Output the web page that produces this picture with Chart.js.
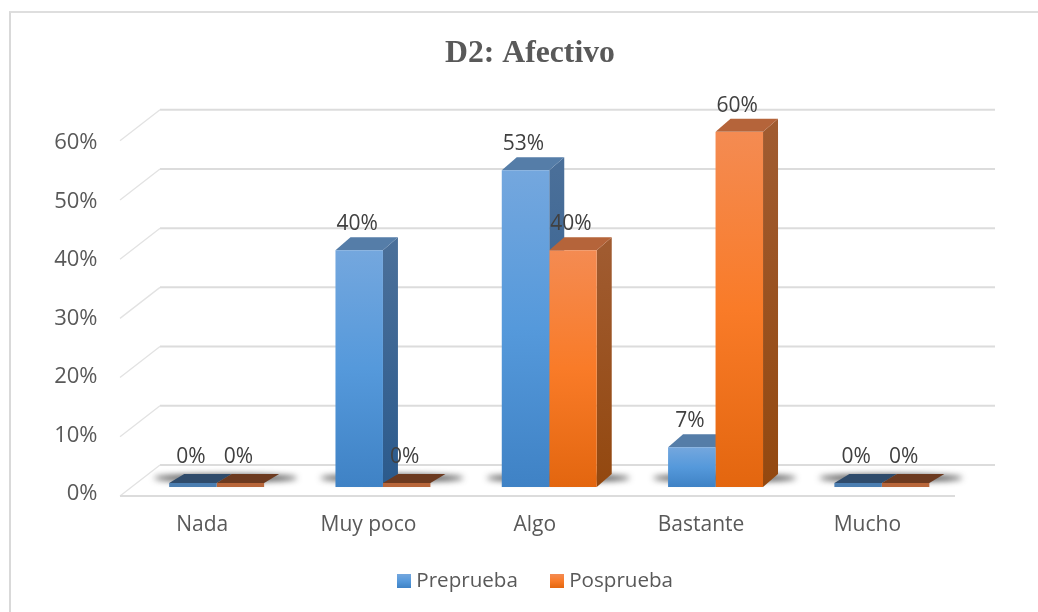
<!DOCTYPE html>
<html><head><meta charset="utf-8">
<script src="https://cdn.jsdelivr.net/npm/chart.js@4"></script>
<style>
html,body{margin:0;padding:0;background:#fff;overflow:hidden}
#frame{position:absolute;left:9px;top:11px;right:0;bottom:0;border-left:2px solid #d9d9d9;border-top:2px solid #dedede}
canvas{position:absolute;left:0;top:0;filter:blur(0.55px)}
</style></head><body>
<div id="frame"></div>
<canvas id="c" width="1038" height="612"></canvas>
<script>
const titleText = "D2: Afectivo";
const categories = ["Nada","Muy poco","Algo","Bastante","Mucho"];
const seriesNames = ["Preprueba","Posprueba"];
const preprueba = [0,40,53.5,6.7,0];
const posprueba = [0,0,40,60,0];
const tickValues = [0,10,20,30,40,50,60];

const FONT = '"Open Sans", sans-serif';
const palette = [
 {top:'#74a7de',mid:'#5599db',bot:'#3f82c5',cap:'#557da8',capZero:'#2f4b6b',strip:'#4b7eb1',sideT:'#4a6f99',sideB:'#2b5a8c'},
 {top:'#f48b52',mid:'#f97b28',bot:'#e3660f',cap:'#b5643a',capZero:'#6c3a20',strip:'#b8663a',sideT:'#a05b30',sideB:'#93480f'}
];
const DX=15, DY=13;

function gradFor(ctx,y0,y1,p){
  const g=ctx.createLinearGradient(0,y0,0,y1);
  g.addColorStop(0,p.top);g.addColorStop(0.5,p.mid);g.addColorStop(1,p.bot);return g;
}
function fillFor(idx){
  return c=>{
    const p=palette[idx], chart=c.chart;
    if(!chart.chartArea||c.parsed===undefined) return p.mid;
    if(c.parsed.y===0) return p.strip;
    const s=chart.scales.y;
    return gradFor(chart.ctx,s.getPixelForValue(c.parsed.y),s.getPixelForValue(0),p);
  };
}
function swatch(p){
  const cv=document.createElement('canvas');cv.width=14;cv.height=14;
  const x=cv.getContext('2d');x.fillStyle=gradFor(x,0,14,p);x.fillRect(0,0,14,14);return cv;
}
function poly(ctx,pts,fill){
  ctx.beginPath();pts.forEach((q,i)=>i?ctx.lineTo(q[0],q[1]):ctx.moveTo(q[0],q[1]));ctx.closePath();ctx.fillStyle=fill;ctx.fill();
}
const depthPlugin={
  id:'depth',
  beforeDraw(chart){
    if(chart.titleBlock&&!chart.$shifted){
      chart.titleBlock.left-=7.5;chart.titleBlock.right-=7.5;
      chart.scales.x.bottom+=8;
      chart.$shifted=true;
    }
  },
  beforeDatasetsDraw(chart){
    const ctx=chart.ctx,s=chart.scales.y,a=chart.chartArea;
    ctx.save();
    const backL=a.left+26.5, backR=a.right+30, frontL=a.left-13.5;
    tickValues.forEach(v=>{
      const y=s.getPixelForValue(v);
      ctx.strokeStyle='#dcdcdc';ctx.lineWidth=2;
      ctx.beginPath();ctx.moveTo(backL,y-22);ctx.lineTo(backR,y-22);ctx.stroke();
      ctx.strokeStyle='#e2e2e2';ctx.lineWidth=1.3;
      ctx.beginPath();ctx.moveTo(frontL,y+9);ctx.lineTo(backL,y-22);ctx.stroke();
    });
    const y0=s.getPixelForValue(0);
    ctx.strokeStyle='#dcdcdc';ctx.lineWidth=2;
    ctx.beginPath();ctx.moveTo(frontL,y0+9);ctx.lineTo(a.right-10,y0+9);ctx.stroke();
    const metas=chart.getSortedVisibleDatasetMetas();
    categories.forEach((_,i)=>{
      const l=metas[0].data[i], r=metas[1].data[i];
      ctx.save();ctx.filter='blur(3px)';ctx.fillStyle='rgba(30,30,30,0.85)';
      ctx.beginPath();ctx.ellipse((l.x+r.x)/2+9,y0-9,l.width+24,3.6,0,0,Math.PI*2);ctx.fill();ctx.restore();
    });
    metas.forEach((m,di)=>{
      const p=palette[di];
      m.data.forEach(el=>{
        const L=el.x-el.width/2,R=el.x+el.width/2,B=el.base,zero=el.$context.parsed.y===0;
        const T=el.y, top=zero?B-13:T-DY;
        if(!zero){
          const g=ctx.createLinearGradient(0,T,0,B);g.addColorStop(0,p.sideT);g.addColorStop(1,p.sideB);
          poly(ctx,[[R,T],[R+DX,top],[R+DX,B-DY],[R,B]],g);
        }
        poly(ctx,[[L,T],[L+DX,top],[R+DX,top],[R,T]],zero?p.capZero:p.cap);
      });
    });
    ctx.restore();
  },
  afterDatasetsDraw(chart){
    const ctx=chart.ctx;
    ctx.save();ctx.font='21px '+FONT;ctx.fillStyle='#404040';ctx.textAlign='center';ctx.textBaseline='middle';
    chart.getSortedVisibleDatasetMetas().forEach(m=>{
      m.data.forEach(el=>{
        const v=el.$context.parsed.y, yy=v===0?el.base-30:el.y-26;
        ctx.fillText(Math.floor(v+0.4)+'%',el.x-2,yy);
      });
    });
    ctx.restore();
  }
};
const ctx=document.getElementById('c').getContext('2d');
new Chart(ctx,{
  type:'bar',
  data:{labels:categories,datasets:[
    {label:seriesNames[0],data:preprueba,backgroundColor:fillFor(0)},
    {label:seriesNames[1],data:posprueba,backgroundColor:fillFor(1)}
  ]},
  plugins:[depthPlugin],
  options:{
    responsive:false,animation:false,
    layout:{padding:{left:37,right:0,top:0,bottom:10.4}},
    datasets:{bar:{barPercentage:1,categoryPercentage:0.571,minBarLength:4,borderWidth:0}},
    scales:{
      x:{offset:true,grid:{display:false},border:{display:false},
        ticks:{color:'#595959',font:{family:FONT,size:21},padding:17,labelOffset:-14.5,maxRotation:0,autoSkip:false},
        afterFit(s){s.height=47;}},
      y:{display:false,min:0,max:60},
      yAxisLabels:{position:'left',min:0,max:60.73,grid:{display:false},border:{display:false},
        ticks:{color:'#595959',font:{family:FONT,size:22},padding:28,labelOffset:7,callback:v=>v+'%'},
        afterBuildTicks(s){s.ticks=tickValues.map(v=>({value:v}));},
        afterFit(s){s.width=96.5;}},
      rightGap:{position:'right',grid:{display:false},border:{display:false},ticks:{display:false},
        afterFit(s){s.width=73;}}
    },
    plugins:{
      tooltip:{enabled:false},
      title:{display:true,text:titleText,color:'#595959',font:{family:'"Liberation Serif",serif',size:31.7,weight:'bold'},padding:{top:35,bottom:58.7}},
      legend:{position:'bottom',labels:{font:{family:FONT,size:20.6},color:'#595959',boxWidth:4,boxHeight:4,usePointStyle:true,padding:37,
        generateLabels(chart){
          return chart.data.datasets.map((d,i)=>({text:d.label,pointStyle:swatch(palette[i]),strokeStyle:'transparent',lineWidth:0,datasetIndex:i,fontColor:'#595959'}));
        }}}
    }
  }
});
</script>
</body></html>
